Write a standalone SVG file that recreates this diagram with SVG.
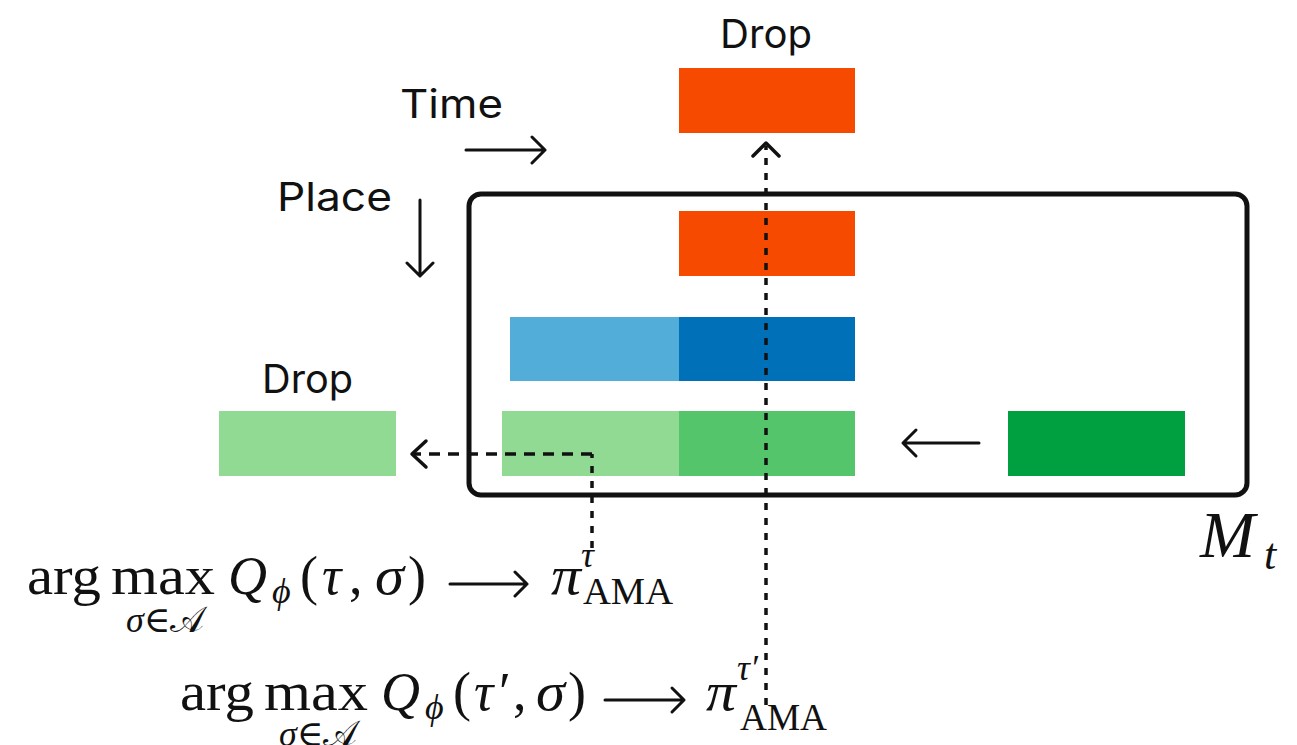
<svg xmlns="http://www.w3.org/2000/svg" width="1297" height="745" viewBox="0 0 1297 745">
  <style>
    .lbl { font-family: Inter, "Liberation Sans", sans-serif; font-size: 39px; fill: #111; }
    .m { font-family: "Liberation Serif", "DejaVu Serif", serif; fill: #111; }
    .it { font-style: italic; }
    .big { font-size: 54px; }
    .sm { font-size: 36px; }
    .solid { fill: none; stroke: #111; stroke-width: 3; stroke-linecap: round; stroke-linejoin: round; }
    .dashH { fill: none; stroke: #111; stroke-width: 3.5; stroke-dasharray: 11 8; }
    .dashV { fill: none; stroke: #111; stroke-width: 3.5; stroke-dasharray: 7 8; }
    .head { fill: none; stroke: #111; stroke-width: 3.5; stroke-linecap: round; stroke-linejoin: round; }
  </style>

  <rect width="1297" height="745" fill="#ffffff"/>

  <!-- memory frame M_t -->
  <g id="frame">
    <rect x="469" y="194" width="778" height="301" rx="12" fill="none" stroke="#111" stroke-width="5"/>
    <text class="m it" x="1200" y="557" font-size="66">M</text>
    <text class="m it" x="1264" y="569" font-size="44">t</text>
  </g>

  <!-- blocks -->
  <g id="drop-top">
    <text class="lbl" x="720" y="48" textLength="92" lengthAdjust="spacingAndGlyphs">Drop</text>
    <rect x="679" y="68" width="176" height="65" fill="#F64A00"/>
  </g>
  <g id="red-row">
    <rect x="679" y="211" width="176" height="65" fill="#F64A00"/>
  </g>
  <g id="blue-row">
    <rect x="510" y="317" width="169" height="64" fill="#52AED8"/>
    <rect x="679" y="317" width="176" height="64" fill="#0071B8"/>
  </g>
  <g id="green-row">
    <rect x="502" y="411" width="177" height="65" fill="#90DA93"/>
    <rect x="679" y="411" width="176" height="65" fill="#55C56B"/>
  </g>
  <g id="green-new">
    <rect x="1008" y="411" width="177" height="65" fill="#00A040"/>
  </g>
  <g id="drop-left">
    <text class="lbl" x="262" y="393" textLength="91" lengthAdjust="spacingAndGlyphs">Drop</text>
    <rect x="219" y="411" width="177" height="65" fill="#90DA93"/>
  </g>

  <!-- axis legend -->
  <g id="legend">
    <text class="lbl" x="400" y="118" textLength="103" lengthAdjust="spacingAndGlyphs">Time</text>
    <text class="lbl" x="277" y="211" textLength="115" lengthAdjust="spacingAndGlyphs">Place</text>
  </g>

  <!-- connectors -->
  <g id="connectors">
    <path class="solid" d="M466 150 H545 M532 137 L545 150 L532 163"/>
    <path class="solid" d="M420 200 V276 M407 263 L420 276 L433 263"/>
    <path class="solid" d="M979 443 H903 M916 430 L903 443 L916 456"/>
    <path class="dashV" d="M766 705 V146"/>
    <path class="head" d="M753 156 L766 143 L779 156"/>
    <path class="dashV" d="M592 548 V454"/>
    <path class="dashH" d="M592 454 H413"/>
    <path class="head" d="M426 441 L412 454 L426 467"/>
    <path class="solid" d="M450 584 H527 M515 572 L527 584 L515 596" stroke-width="2.6"/>
    <path class="solid" d="M605 700 H684 M672 688 L684 700 L672 712" stroke-width="2.6"/>
  </g>

  <!-- policy for tau -->
  <g id="formula-tau">
    <text class="m big" x="27" y="594" textLength="74" lengthAdjust="spacingAndGlyphs">arg</text>
    <text class="m big" x="111" y="594" textLength="104" lengthAdjust="spacingAndGlyphs">max</text>
    <text class="m sm" x="126" y="632"><tspan class="it">σ</tspan>∈<tspan>𝒜</tspan></text>
    <text class="m big it" x="228" y="594">Q</text>
    <text class="m sm it" x="272" y="603">ϕ</text>
    <text class="m big" x="300" y="594">(</text>
    <text class="m big it" x="322" y="594">τ</text>
    <text class="m big" x="349" y="594">,</text>
    <text class="m big it" x="375" y="594" textLength="29" lengthAdjust="spacingAndGlyphs">σ</text>
    <text class="m big" x="408" y="594">)</text>
    <text class="m big it" x="551" y="594" textLength="30" lengthAdjust="spacingAndGlyphs">π</text>
    <text class="m sm it" x="581" y="567">τ</text>
    <text class="m" x="583" y="604" font-size="38" textLength="90" lengthAdjust="spacingAndGlyphs">AMA</text>
  </g>

  <!-- policy for tau prime -->
  <g id="formula-tau-prime">
    <text class="m big" x="180" y="710" textLength="74" lengthAdjust="spacingAndGlyphs">arg</text>
    <text class="m big" x="264" y="710" textLength="104" lengthAdjust="spacingAndGlyphs">max</text>
    <text class="m sm" x="279" y="746"><tspan class="it">σ</tspan>∈<tspan>𝒜</tspan></text>
    <text class="m big it" x="381" y="710">Q</text>
    <text class="m sm it" x="425" y="719">ϕ</text>
    <text class="m big" x="453" y="710">(</text>
    <text class="m big it" x="474" y="710">τ</text>
    <text class="m big" x="499" y="710">′</text>
    <text class="m big" x="513" y="710">,</text>
    <text class="m big it" x="536" y="710" textLength="29" lengthAdjust="spacingAndGlyphs">σ</text>
    <text class="m big" x="568" y="710">)</text>
    <text class="m big it" x="706" y="710" textLength="30" lengthAdjust="spacingAndGlyphs">π</text>
    <text class="m sm it" x="737" y="680">τ′</text>
    <text class="m" x="740" y="730" font-size="38" textLength="87" lengthAdjust="spacingAndGlyphs">AMA</text>
  </g>
</svg>
